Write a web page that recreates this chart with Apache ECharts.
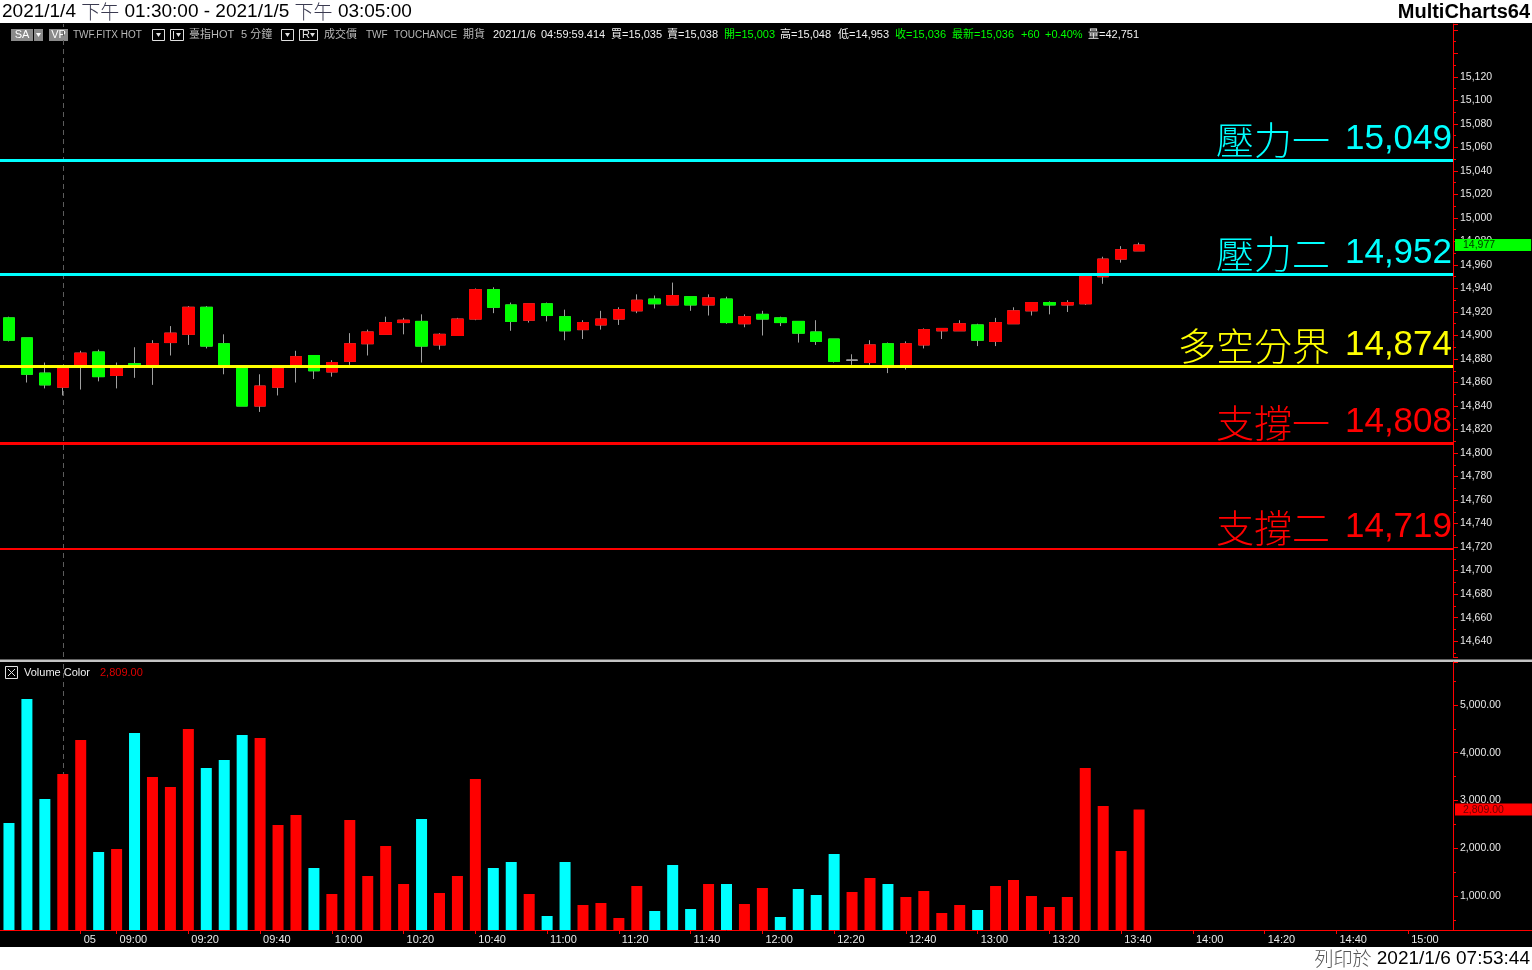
<!DOCTYPE html>
<html><head><meta charset="utf-8">
<script src="https://cdn.jsdelivr.net/npm/echarts@6/dist/echarts.min.js"></script>
<style>html,body{margin:0;padding:0;background:#fff;}#c{width:1532px;height:970px;}</style>
</head><body><div id="c"></div>
<script>
// ---------------- DATA ----------------
const nightTimes = ['04:45','04:50','04:55','05:00'];
const sessionBreakAt = '05:00';
const opens  = [14915,14898,14868,14856,14875,14886,14866,14876,14875,14894,14901,14924,14893,14872,14840,14856,14875,14883,14869,14878,14893,14901,14911,14912,14892,14900,14914,14939,14926,14913,14927,14916,14905,14909,14914,14921,14931,14926,14933,14926,14931,14910,14918,14915,14912,14903,14897,14879,14877,14893,14875,14892,14904,14904,14909,14895,14910,14921,14928,14926,14927,14950,14965,14972];
const closes = [14896,14867,14858,14872,14885,14865,14872,14873,14893,14902,14924,14891,14874,14840,14857,14872,14882,14870,14877,14893,14903,14911,14913,14891,14901,14914,14939,14924,14912,14927,14917,14904,14911,14914,14922,14930,14927,14934,14926,14932,14911,14916,14914,14911,14902,14895,14878,14879,14892,14875,14893,14905,14906,14910,14896,14911,14921,14928,14926,14928,14952,14965,14973,14977];
const highs  = [14916,14898,14877,14874,14887,14888,14877,14890,14896,14908,14925,14925,14901,14874,14867,14874,14887,14883,14879,14902,14905,14916,14915,14918,14902,14915,14940,14941,14928,14927,14928,14922,14913,14921,14924,14935,14934,14945,14933,14935,14933,14918,14921,14916,14912,14913,14897,14884,14896,14894,14895,14906,14906,14913,14910,14915,14924,14928,14929,14930,14953,14967,14976,14979];
const lows   = [14895,14860,14855,14849,14854,14861,14855,14864,14858,14883,14892,14889,14867,14840,14835,14849,14860,14863,14865,14875,14883,14901,14901,14877,14888,14900,14913,14919,14904,14911,14912,14896,14897,14905,14909,14919,14923,14926,14921,14917,14910,14907,14900,14908,14894,14892,14877,14875,14875,14868,14871,14889,14897,14904,14891,14891,14910,14917,14918,14920,14926,14944,14962,14972];
const volumes = [2529,5125,3031,3555,4267,1921,1984,4413,3492,3282,4497,3680,3848,4371,4309,2487,2696,1586,1042,2591,1419,2047,1251,2612,1063,1419,3450,1586,1712,1042,581,1712,812,853,539,1209,686,1649,728,1251,1251,832,1168,560,1147,1021,1879,1084,1377,1251,979,1105,644,812,707,1209,1335,1000,770,979,3680,2885,1942,2809];
const volumeDir = ['d','d','d','u','u','d','u','d','u','u','u','d','d','d','u','u','u','d','u','u','u','u','u','d','u','u','u','d','d','u','d','d','u','u','u','u','d','d','d','u','d','u','u','d','d','d','d','u','u','d','u','u','u','u','d','u','u','u','u','u','u','u','u','u'];
const levelNames  = ['壓力一','壓力二','多空分界','支撐一','支撐二'];
const levelValues = [15049,14952,14874,14808,14719];
const xTickAt   = ['08:50','09:00','09:20','09:40','10:00','10:20','10:40','11:00','11:20','11:40','12:00','12:20','12:40','13:00','13:20','13:40','14:00','14:20','14:40','15:00'];
const xTickText = ['05','09:00','09:20','09:40','10:00','10:20','10:40','11:00','11:20','11:40','12:00','12:20','12:40','13:00','13:20','13:40','14:00','14:20','14:40','15:00'];
const titleText = ['2021/1/4','下午','01:30:00','-','2021/1/5','下午','03:05:00'];
const printText = ['列印於','2021/1/6 07:53:44'];
const infoTexts = ['TWF.FITX HOT','臺指HOT','5 分鐘','成交價','TWF','TOUCHANCE','期貨','2021/1/6','04:59:59.414','買=15,035','賣=15,038','開=15,003','高=15,048','低=14,953','收=15,036','最新=15,036','+60','+0.40%','量=42,751'];

// ---------------- STYLE / LAYOUT ----------------
const levelColors = ['#00ffff','#00ffff','#ffff00','#ff0000','#ff0000'];
const levelWidths = [3,3,3,3,2];
const infoX = [73,189,241,324,366,394,463,493,541,611,667,724,780,838,895,952,1021,1045,1088];
const infoSize = [10,11,11,11,10,10,11,11,11,11,11,11,11,11,11,11,11,11,11];
const infoCol = ['#b8b8b8','#b8b8b8','#b8b8b8','#b8b8b8','#b8b8b8','#b8b8b8','#b8b8b8','#f0f0f0','#f0f0f0','#f0f0f0','#f0f0f0','#00ff00','#f0f0f0','#f0f0f0','#00ff00','#00ff00','#00ff00','#00ff00','#f0f0f0'];
const LAT = "'Liberation Sans', Arial, sans-serif";
const CJK = "'Noto Sans CJK TC', 'Noto Sans CJK SC', sans-serif";
const MIX = "'Liberation Sans', 'Noto Sans CJK TC', 'DejaVu Sans', sans-serif";
const fmt = v => v.toLocaleString('en-US');
const fmt2 = v => v.toLocaleString('en-US',{minimumFractionDigits:2, maximumFractionDigits:2});

const categories = nightTimes.slice();
for (let m = 8*60+50; m <= 15*60+5; m += 5) {
  categories.push(String(Math.floor(m/60)).padStart(2,'0') + ':' + String(m%60).padStart(2,'0'));
}
categories.push('');

const tickMap = {}; xTickAt.forEach((t,i)=>{ tickMap[t] = xTickText[i]; });
const showTick = (idx, val) => tickMap[val] !== undefined;

const ohlc = opens.map((o,i)=>[o, closes[i], lows[i], highs[i]]);
const bodies = opens.map((o,i)=>{
  const c = closes[i];
  const item = {value:[o, c, Math.min(o,c), Math.max(o,c)]};
  if (o === c) item.itemStyle = {color:'#a0a0a0', color0:'#a0a0a0', borderColor:'#a0a0a0', borderColor0:'#a0a0a0'};
  return item;
});
const volData = volumes.map((v,i)=>({value:v, itemStyle:{color: volumeDir[i]==='u' ? '#ff0000' : '#00ffff'}}));
const lastClose = closes[closes.length-1];
const lastVol = volumes[volumes.length-1];

const levelLines = levelValues.map((v,i)=>({
  yAxis: v,
  lineStyle: {color: levelColors[i], width: levelWidths[i], type:'solid', opacity:1},
  label: {
    show: true, position: 'insideEndTop', distance: [1, 1],
    formatter: () => '{n|' + levelNames[i] + '}{s|}{v|' + fmt(v) + '}',
    rich: {
      n: {color: levelColors[i], fontFamily: CJK, fontSize: 38, fontWeight: 300, lineHeight: 40},
      s: {width: 15, lineHeight: 40},
      v: {color: levelColors[i], fontFamily: LAT, fontSize: 35, lineHeight: 40}
    }
  }
}));

// header graphics
const g = [];
g.push({type:'rect', shape:{x:0,y:0,width:1532,height:23}, style:{fill:'#fff'}, silent:true});
g.push({type:'rect', shape:{x:0,y:947,width:1532,height:23}, style:{fill:'#fff'}, silent:true});
g.push({type:'text', style:{x:2, y:12, verticalAlign:'middle', align:'left',
  text: titleText[0] + ' {g|' + titleText[1] + '} ' + titleText[2] + ' ' + titleText[3] + ' ' + titleText[4] + ' {g|' + titleText[5] + '} ' + titleText[6],
  font: "19px " + LAT, fill:'#000',
  rich:{g:{fontFamily:CJK, fontSize:19, fontWeight:300, fill:'#3a3a50'}}}});
g.push({type:'text', style:{x:1530, y:12, verticalAlign:'middle', align:'right', text:'MultiCharts64', font:"bold 20px " + LAT, fill:'#000'}});
g.push({type:'text', style:{x:1530, y:959, verticalAlign:'middle', align:'right',
  text:'{g|' + printText[0] + '} ' + printText[1], font:"19px " + LAT, fill:'#000',
  rich:{g:{fontFamily:CJK, fontSize:19, fontWeight:300, fill:'#555'}}}});
// control boxes
g.push({type:'rect', shape:{x:11,y:29,width:22,height:12}, style:{fill:'#8a8a8a'}});
g.push({type:'text', style:{x:22, y:35, align:'center', verticalAlign:'middle', text:'SA', font:"11px " + LAT, fill:'#fff'}});
g.push({type:'rect', shape:{x:34,y:29,width:9,height:12}, style:{fill:'#8a8a8a'}});
g.push({type:'polygon', shape:{points:[[36,33],[41,33],[38.5,37]]}, style:{fill:'#fff'}});
g.push({type:'rect', shape:{x:49,y:29,width:19,height:12}, style:{fill:'#8a8a8a'}});
g.push({type:'text', style:{x:58.5, y:35, align:'center', verticalAlign:'middle', text:'VP', font:"11px " + LAT, fill:'#fff'}});
[[152,12],[281,12]].forEach(b=>{
  g.push({type:'rect', shape:{x:b[0]+0.5,y:29.5,width:b[1],height:11}, style:{fill:'#000', stroke:'#e0e0e0', lineWidth:1}});
  g.push({type:'polygon', shape:{points:[[b[0]+4,33],[b[0]+9,33],[b[0]+6.5,37]]}, style:{fill:'#e0e0e0'}});
});
g.push({type:'rect', shape:{x:170.5,y:29.5,width:13,height:11}, style:{fill:'#000', stroke:'#e0e0e0', lineWidth:1}});
g.push({type:'rect', shape:{x:173,y:31,width:1,height:8}, style:{fill:'#e0e0e0'}});
g.push({type:'polygon', shape:{points:[[176,33],[181,33],[178.5,37]]}, style:{fill:'#e0e0e0'}});
g.push({type:'rect', shape:{x:299.5,y:29.5,width:18,height:11}, style:{fill:'#000', stroke:'#e0e0e0', lineWidth:1}});
g.push({type:'text', style:{x:302, y:35, verticalAlign:'middle', text:'R', font:"11px " + LAT, fill:'#e0e0e0'}});
g.push({type:'polygon', shape:{points:[[310,33],[315,33],[312.5,37]]}, style:{fill:'#e0e0e0'}});
infoTexts.forEach((t,i)=>{
  g.push({type:'text', style:{x:infoX[i], y:35, verticalAlign:'middle', text:t, font:infoSize[i] + "px " + MIX, fill:infoCol[i]}});
});
// volume legend
g.push({type:'rect', shape:{x:5.5,y:666.5,width:12,height:12}, style:{fill:'#000', stroke:'#e0e0e0', lineWidth:1}});
g.push({type:'polyline', shape:{points:[[8,669],[15,676]]}, style:{stroke:'#e0e0e0', lineWidth:1}});
g.push({type:'polyline', shape:{points:[[15,669],[8,676]]}, style:{stroke:'#e0e0e0', lineWidth:1}});
g.push({type:'text', style:{x:24, y:672.5, verticalAlign:'middle', text:'Volume Color', font:"11px " + LAT, fill:'#f0f0f0'}});
g.push({type:'text', style:{x:100, y:672.5, verticalAlign:'middle', text:fmt2(lastVol), font:"11px " + LAT, fill:'#e00000'}});
// pane separator and axis extension
g.push({type:'rect', shape:{x:0,y:659.5,width:1532,height:2.5}, style:{fill:'#c4c4c4'}});
g.push({type:'rect', shape:{x:1453,y:930,width:79,height:1}, style:{fill:'#ff0000'}});

const axisLabelCommon = {color:'#e8e8e8', fontFamily: LAT, fontSize: 10.5};
const hiddenLine = {color:'rgba(0,0,0,0)', width:1, opacity:1};

const option = {
  animation: false,
  backgroundColor: '#000',
  graphic: g,
  grid: [
    {left: 0, width: 1453, top: 24, height: 633},
    {left: 0, width: 1453, top: 662, height: 268}
  ],
  xAxis: [
    {type:'category', gridIndex:0, data: categories, boundaryGap: true, show: false},
    {type:'category', gridIndex:1, data: categories, boundaryGap: true,
      axisLine: {show:true, lineStyle:{color:'#ff0000', width:1}},
      axisTick: {show:true, interval: showTick, alignWithLabel:true, length:4, lineStyle:{color:'#ff0000'}},
      axisLabel: Object.assign({}, axisLabelCommon, {fontSize: 11, interval: showTick, formatter: v => tickMap[v] || '', align:'left', margin: 4, padding:[0,0,0,3]}),
      splitLine: {show:false}}
  ],
  yAxis: [
    {type:'value', gridIndex:0, position:'right', min:14626.5, max:15165, splitNumber:27, minInterval:20, maxInterval:20,
      axisLine:{show:true, lineStyle:{color:'#ff0000'}},
      axisTick:{show:true, length:5, lineStyle:{color:'#ff0000'}},
      minorTick:{show:true, splitNumber:2, length:3, lineStyle:{color:'#ff0000'}},
      splitLine:{show:false},
      axisLabel: Object.assign({}, axisLabelCommon, {margin:7, showMinLabel:false, showMaxLabel:false,
        formatter: v => (v > 15120.5 || v < 14639.5) ? '' : fmt(v)})},
    {type:'value', gridIndex:1, position:'right', min:288, max:5900, splitNumber:5, minInterval:1000, maxInterval:1000,
      axisLine:{show:true, lineStyle:{color:'#ff0000'}},
      axisTick:{show:true, length:5, lineStyle:{color:'#ff0000'}},
      minorTick:{show:true, splitNumber:2, length:3, lineStyle:{color:'#ff0000'}},
      splitLine:{show:false},
      axisLabel: Object.assign({}, axisLabelCommon, {margin:7, showMinLabel:false, showMaxLabel:false,
        formatter: v => (v < 999 || v > 5001) ? '' : fmt2(v)})}
  ],
  series: [
    {type:'candlestick', name:'wick', xAxisIndex:0, yAxisIndex:0, data: ohlc, barWidth: 12, silent:true, z:2,
      itemStyle:{color:'rgba(0,0,0,0)', color0:'rgba(0,0,0,0)', borderColor:'#a0a0a0', borderColor0:'#a0a0a0', borderColorDoji:'#a0a0a0', borderWidth:1},
      markLine:{silent:true, z:1, symbol:['none','none'], label:{show:false},
        lineStyle:{color:'#5c5c5c', type:[5,4], width:1},
        data:[{xAxis: sessionBreakAt}]}},
    {type:'candlestick', name:'body', xAxisIndex:0, yAxisIndex:0, data: bodies, barWidth: 12, silent:true, z:3,
      itemStyle:{color:'#ff0000', color0:'#00ff00', borderColor:'#ff0000', borderColor0:'#00ff00', borderColorDoji:'#a0a0a0', borderWidth:1},
      markLine:{silent:true, symbol:['none','none'],
        data: levelLines.concat([{yAxis: lastClose, lineStyle: hiddenLine,
          label:{show:true, position:'end', distance:2, opacity:1, formatter: () => fmt(lastClose),
            backgroundColor:'#00ff00', color:'#003300', fontFamily:LAT, fontSize:10.5, lineHeight:12, padding:[0,36,0,8]}}])}},
    {type:'bar', name:'volume', xAxisIndex:1, yAxisIndex:1, data: volData, barWidth: 11, silent:true, z:2,
      markLine:{silent:true, z:1, symbol:['none','none'],
        data:[
          {xAxis: sessionBreakAt, lineStyle:{color:'#5c5c5c', type:[5,4], width:1}, label:{show:false}},
          {yAxis: lastVol, lineStyle: hiddenLine,
            label:{show:true, position:'end', distance:2, opacity:1, formatter: () => fmt2(lastVol),
              backgroundColor:'#ff0000', color:'#6a0000', fontFamily:LAT, fontSize:10.5, lineHeight:12, padding:[0,28,0,8]}}
        ]}}
  ]
};
const chart = echarts.init(document.getElementById('c'), null, {width:1532, height:970});
chart.setOption(option);
</script>
</body></html>
